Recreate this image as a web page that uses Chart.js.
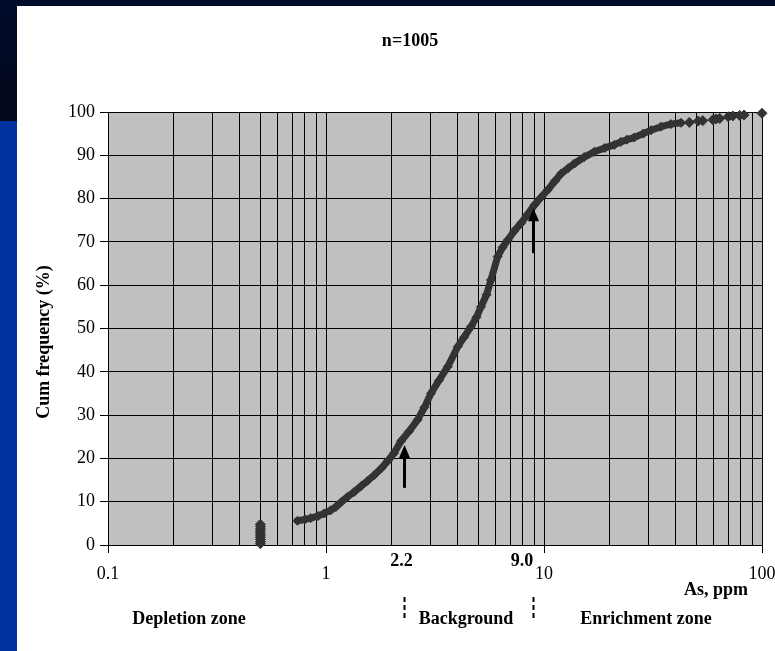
<!DOCTYPE html>
<html><head><meta charset="utf-8">
<script src="https://cdn.jsdelivr.net/npm/chart.js@4/dist/chart.umd.min.js"></script>
<style>
html,body{margin:0;padding:0;background:#fff;width:775px;height:651px;overflow:hidden}
#topband{position:absolute;left:0;top:0;width:775px;height:6px;background:#000c2c}
#leftdark{position:absolute;left:0;top:0;width:17px;height:121px;background:linear-gradient(#000c2c,#03081a)}
#leftblue{position:absolute;left:0;top:121px;width:17px;height:530px;background:#0033a0}
#wrap{position:absolute;left:0;top:0;width:775px;height:651px}
</style></head><body>
<div id="topband"></div><div id="leftdark"></div><div id="leftblue"></div>
<div id="wrap"><canvas id="c" width="775" height="651"></canvas></div>
<script>
// ---- text ----
const chartTitle = 'n=1005';
const yAxisTitle = 'Cum frequency (%)';
const xAxisTitle = 'As, ppm';
const zoneLabels = ['Depletion zone', 'Background', 'Enrichment zone'];
const thresholdLabels = ['2.2', '9.0'];

// ---- axes ----
const xTickValues = [0.1,0.2,0.3,0.4,0.5,0.6,0.7,0.8,0.9,1,2,3,4,5,6,7,8,9,10,20,30,40,50,60,70,80,90,100];
const xDecadeValues = [0.1, 1, 10, 100];
const xDecadeLabels = ['0.1', '1', '10', '100'];
const yTickValues = [0,10,20,30,40,50,60,70,80,90,100];

// ---- data: As (ppm) vs cumulative frequency (%) ----
const curveX = [0.74,0.8,0.85,0.92,0.98,1.05,1.11,1.18,1.26,1.35,1.45,1.55,1.67,1.8,1.92,2.05,2.21,2.4,2.63,2.83,3.03,3.3,3.62,4.02,4.3,4.62,4.9,5.14,5.45,5.71,6.13,6.45,6.81,7.3,7.84,8.4,9.03,9.7,10.4,11.2,12.0,12.9,13.8,15.3,17.0,19.0,21.0,22.5,24.0,25.9,28.5,31.0,34.4,38.2,42.5];
const curveY = [5.6,5.9,6.2,6.7,7.3,8.0,8.8,10.0,11.2,12.3,13.6,14.8,16.2,17.8,19.4,21.2,24.0,26.2,28.9,31.8,35.0,38.0,41.2,45.8,48.0,50.4,52.6,55.0,57.8,61.2,66.6,68.7,70.4,72.5,74.3,76.3,78.5,80.3,82.0,84.0,85.8,87.0,88.1,89.6,90.8,91.7,92.4,93.1,93.6,94.1,95.0,95.8,96.6,97.2,97.5];
const tailX = [46.4, 51.0, 53.5, 59.5, 61.6, 64.0, 70.0, 73.5, 79.0, 82.7, 100];
const tailY = [97.6, 97.9, 98.0, 98.2, 98.4, 98.5, 98.9, 99.1, 99.2, 99.3, 99.7];
const belowLimitX = [0.5,0.5,0.5,0.5,0.5,0.5,0.5,0.5,0.5,0.5];
const belowLimitY = [0.3,0.8,1.3,1.8,2.3,2.8,3.3,3.8,4.3,4.8];

// ---- threshold arrows (x position, arrow from y -> to y) ----
const thresholdX = [2.27, 8.93];
const arrowFromY = [13.2, 67.4];
const arrowToY = [23.1, 77.8];

const toPts = (xs, ys) => xs.map((x, i) => ({x: x, y: ys[i]}));

const SERIF = '"Liberation Serif", "Times New Roman", serif';
const INK = '#333333';

const decorPlugin = {
  id: 'decor',
  beforeDraw(chart) {
    const {ctx, chartArea: a} = chart;
    ctx.save();
    ctx.fillStyle = '#c0c0c0';
    ctx.fillRect(a.left, a.top, a.right - a.left, a.bottom - a.top);
    ctx.restore();
  },
  afterDatasetsDraw(chart) {
    const {ctx} = chart;
    const xs = chart.scales.x, ys = chart.scales.y;
    ctx.save();
    ctx.fillStyle = '#000';
    ctx.strokeStyle = '#000';
    thresholdX.forEach((tx, i) => {
      const px = Math.round(xs.getPixelForValue(tx)) + 0.5;
      const y0 = ys.getPixelForValue(arrowFromY[i]);
      const y1 = ys.getPixelForValue(arrowToY[i]);
      ctx.lineWidth = 3;
      ctx.beginPath();
      ctx.moveTo(px, y0);
      ctx.lineTo(px, y1 + 10);
      ctx.stroke();
      ctx.beginPath();
      ctx.moveTo(px, y1);
      ctx.lineTo(px - 5.5, y1 + 13);
      ctx.lineTo(px + 5.5, y1 + 13);
      ctx.closePath();
      ctx.fill();
    });
    ctx.restore();
  },
  afterDraw(chart) {
    const {ctx} = chart;
    const xs = chart.scales.x;
    ctx.save();
    ctx.fillStyle = '#000';
    ctx.textBaseline = 'middle';
    ctx.font = 'bold 18px ' + SERIF;
    ctx.textAlign = 'center';
    ctx.fillText(chartTitle, 410, 41);
    // y axis title
    ctx.save();
    ctx.translate(44, 342);
    ctx.rotate(-Math.PI / 2);
    ctx.fillText(yAxisTitle, 0, 0);
    ctx.restore();
    // threshold labels
    const p1 = xs.getPixelForValue(thresholdX[0]);
    const p2 = xs.getPixelForValue(thresholdX[1]);
    ctx.fillText(thresholdLabels[0], p1 - 2, 561);
    ctx.textAlign = 'right';
    ctx.fillText(thresholdLabels[1], p2, 561);
    ctx.textAlign = 'center';
    ctx.fillText(xAxisTitle, 716, 590);
    ctx.fillText(zoneLabels[0], 189, 619);
    ctx.fillText(zoneLabels[1], 466, 619);
    ctx.fillText(zoneLabels[2], 646, 619);
    // dashed separators
    ctx.strokeStyle = '#000';
    ctx.lineWidth = 2;
    ctx.setLineDash([5, 3]);
    [p1, p2].forEach(p => {
      const px = Math.round(p) + 0.5;
      ctx.beginPath();
      ctx.moveTo(px, 597);
      ctx.lineTo(px, 618);
      ctx.stroke();
    });
    ctx.restore();
  }
};

new Chart(document.getElementById('c'), {
  type: 'scatter',
  data: {
    datasets: [
      {
        label: 'curve',
        data: toPts(curveX, curveY),
        showLine: true,
        borderColor: INK,
        backgroundColor: INK,
        borderWidth: 7,
        borderJoinStyle: 'round',
        borderCapStyle: 'round',
        pointStyle: 'rectRot',
        pointRadius: 4.5,
        pointBorderWidth: 1,
        pointBorderColor: INK,
        pointBackgroundColor: INK
      },
      {
        label: 'tail',
        data: toPts(tailX, tailY),
        showLine: false,
        clip: false,
        pointStyle: 'rectRot',
        pointRadius: 5,
        pointBorderWidth: 1,
        pointBorderColor: INK,
        pointBackgroundColor: INK
      },
      {
        label: 'below detection',
        data: toPts(belowLimitX, belowLimitY),
        showLine: false,
        clip: false,
        pointStyle: 'rectRot',
        pointRadius: 5,
        pointBorderWidth: 1,
        pointBorderColor: INK,
        pointBackgroundColor: INK
      }
    ]
  },
  options: {
    responsive: false,
    devicePixelRatio: 1,
    animation: false,
    layout: {padding: {left: 0, right: 13, top: 112, bottom: 66}},
    plugins: {legend: {display: false}, tooltip: {enabled: false}, title: {display: false}},
    scales: {
      x: {
        type: 'logarithmic',
        min: 0.1,
        max: 100,
        afterBuildTicks: (s) => { s.ticks = xTickValues.map(v => ({value: v, major: xDecadeValues.includes(v)})); },
        afterFit: (s) => { s.height = 40; s.paddingLeft = 0; s.paddingRight = 0; },
        ticks: {
          autoSkip: false,
          maxRotation: 0,
          padding: 10,
          color: '#000',
          font: {family: SERIF, size: 18},
          callback: (v) => { const i = xDecadeValues.indexOf(v); return i >= 0 ? xDecadeLabels[i] : ''; }
        },
        grid: {
          color: '#000',
          lineWidth: 1,
          drawTicks: true,
          tickLength: 8,
          tickColor: (ctx) => (ctx.tick && xDecadeValues.includes(ctx.tick.value)) ? '#000' : 'rgba(0,0,0,0)'
        },
        border: {display: true, color: '#000', width: 1}
      },
      y: {
        min: 0,
        max: 100,
        afterBuildTicks: (s) => { s.ticks = yTickValues.map(v => ({value: v})); },
        afterFit: (s) => { s.width = 108; },
        ticks: {
          padding: 5,
          color: '#000',
          font: {family: SERIF, size: 18}
        },
        grid: {color: '#000', lineWidth: 1, tickLength: 8, tickColor: '#000'},
        border: {display: true, color: '#000', width: 1}
      }
    }
  },
  plugins: [decorPlugin]
});
</script>
</body></html>
